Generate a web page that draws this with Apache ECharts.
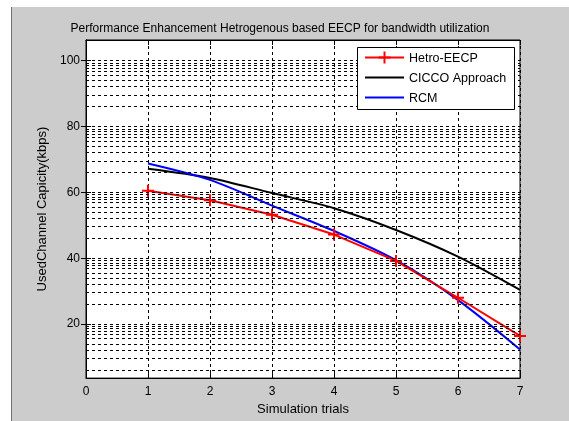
<!DOCTYPE html>
<html><head><meta charset="utf-8">
<script src="https://cdn.jsdelivr.net/npm/echarts@6/dist/echarts.min.js"></script>
<style>html,body{margin:0;padding:0;background:#cccccc;}#c{width:569px;height:421px;}</style>
</head><body><div id="c"></div>
<script>
const trials = [1, 2, 3, 4, 5, 6, 7];
const seriesNames = ['Hetro-EECP', 'CICCO Approach', 'RCM'];
const hetroEECP = [60.5, 57.6, 53.2, 47.2, 39.2, 28.0, 16.4];
const cicco = [67.2, 64.4, 59.8, 55.2, 48.6, 40.5, 30.4];
const rcm = [68.8, 63.8, 56.0, 48.3, 39.4, 27.3, 12.3];
const yTickLabels = [20, 40, 60, 80, 100];
const xTickLabels = [0, 1, 2, 3, 4, 5, 6, 7];
const bandBases = [0, 20, 40, 60, 80];
const bandOffsets = [6.1, 9.6, 12.1, 14.0, 15.6, 16.9, 17.8, 18.6, 19.3, 20];

const gridVals = [];
bandBases.forEach(b => bandOffsets.forEach(o => gridVals.push(+(b + o).toFixed(2))));

const font = 'Liberation Sans, Arial, sans-serif';
const colors = ['#ff0000', '#000000', '#0000ff'];
const chart = echarts.init(document.getElementById('c'), null, {renderer: 'canvas'});
const pair = arr => trials.map((t, i) => [t, arr[i]]);
const plus = 'path://M-1,-6H1V-1H6V1H1V6H-1V1H-6V-1H-1Z';

// manual legend (MATLAB style box)
const lgX = 357, lgY = 47, lgW = 158, lgH = 63, rowY0 = 57.5, rowStep = 20;
const legendEls = [
  {type: 'rect', shape: {x: lgX + 0.5, y: lgY + 0.5, width: lgW - 1, height: lgH - 1},
   style: {fill: '#ffffff', stroke: '#000', lineWidth: 1}, z: 50, silent: true}
];
seriesNames.forEach((n, i) => {
  const y = rowY0 + i * rowStep;
  legendEls.push({type: 'line', shape: {x1: 365, y1: y, x2: 404, y2: y},
    style: {stroke: colors[i], lineWidth: 2}, z: 51, silent: true});
  legendEls.push({type: 'text', x: 409, y: y + 1, z: 51, silent: true,
    style: {text: n, fill: '#000', font: '12.5px ' + font, verticalAlign: 'middle', align: 'left'}});
});
legendEls.push({type: 'rect', shape: {x: 383.5, y: rowY0 - 6, width: 2, height: 12},
  style: {fill: colors[0]}, z: 52, silent: true});
legendEls.push({type: 'rect', shape: {x: 378.5, y: rowY0 - 1, width: 12, height: 2},
  style: {fill: colors[0]}, z: 52, silent: true});

chart.setOption({
  backgroundColor: '#cccccc',
  animation: false,
  graphic: [
    {type: 'rect', shape: {x: 0, y: 0, width: 569, height: 7}, style: {fill: '#ffffff'}, silent: true},
    {type: 'rect', shape: {x: 0, y: 0, width: 11, height: 421}, style: {fill: '#ffffff'}, silent: true},
    {type: 'line', shape: {x1: 11.5, y1: 7, x2: 11.5, y2: 421}, style: {stroke: '#707070', lineWidth: 1}, silent: true}
  ].concat(legendEls),
  title: {
    text: 'Performance Enhancement Hetrogenous based EECP for bandwidth utilization',
    left: 275, top: 18, textAlign: 'center',
    textStyle: {fontFamily: font, fontSize: 12, fontWeight: 'normal', color: '#000'}
  },
  grid: {left: 86, top: 40, width: 434, height: 342, show: true, backgroundColor: '#ffffff', borderColor: '#000', borderWidth: 1},
  xAxis: [{
    type: 'value', min: 0, max: 7, interval: 1,
    name: 'Simulation trials', nameLocation: 'middle', nameGap: 22,
    nameTextStyle: {fontFamily: font, fontSize: 13, color: '#000'},
    axisLine: {show: true, lineStyle: {color: '#000'}},
    axisTick: {inside: true, length: 5, lineStyle: {color: '#000'}},
    axisLabel: {fontFamily: font, fontSize: 12, color: '#000', margin: 8,
      formatter: v => xTickLabels.includes(v) ? String(v) : ''},
    splitLine: {show: true, lineStyle: {color: '#000', type: [3, 3], width: 1}}
  }, {
    type: 'value', min: 0, max: 7, interval: 1, position: 'top',
    axisLine: {show: true, lineStyle: {color: '#000'}},
    axisTick: {inside: true, length: 5, lineStyle: {color: '#000'}},
    axisLabel: {show: false}, splitLine: {show: false}
  }],
  yAxis: [{
    type: 'value', min: 3.6, max: 106.3,
    name: 'UsedChannel Capicity(kbps)', nameLocation: 'middle', nameGap: 31,
    nameTextStyle: {fontFamily: font, fontSize: 13, color: '#000'},
    axisLine: {show: true, lineStyle: {color: '#000'}},
    axisTick: {inside: true, length: 5, customValues: yTickLabels, lineStyle: {color: '#000'}},
    axisLabel: {fontFamily: font, fontSize: 12, color: '#000', margin: 6, customValues: yTickLabels},
    splitLine: {show: false}
  }, {
    type: 'value', min: 3.6, max: 106.3, position: 'right',
    axisLine: {show: true, lineStyle: {color: '#000'}},
    axisTick: {inside: true, length: 5, customValues: yTickLabels, lineStyle: {color: '#000'}},
    axisLabel: {show: false}, splitLine: {show: false}
  }],
  series: [
    {
      name: 'gridlines', type: 'line', data: [], silent: true, z: 1,
      markLine: {
        silent: true, symbol: 'none', animation: false,
        label: {show: false},
        lineStyle: {color: '#000', type: [3, 3], width: 1},
        data: gridVals.map(v => ({yAxis: v}))
      }
    },
    {
      name: seriesNames[0], type: 'line', data: pair(hetroEECP), z: 4,
      symbol: plus, symbolSize: 12, showSymbol: true,
      lineStyle: {color: colors[0], width: 2}, itemStyle: {color: colors[0]}
    },
    {
      name: seriesNames[1], type: 'line', data: pair(cicco), z: 3, smooth: 0.3,
      symbol: 'none', lineStyle: {color: colors[1], width: 2}, itemStyle: {color: colors[1]}
    },
    {
      name: seriesNames[2], type: 'line', data: pair(rcm), z: 3, smooth: 0.3,
      symbol: 'none', lineStyle: {color: colors[2], width: 2}, itemStyle: {color: colors[2]}
    }
  ]
});
</script></body></html>
